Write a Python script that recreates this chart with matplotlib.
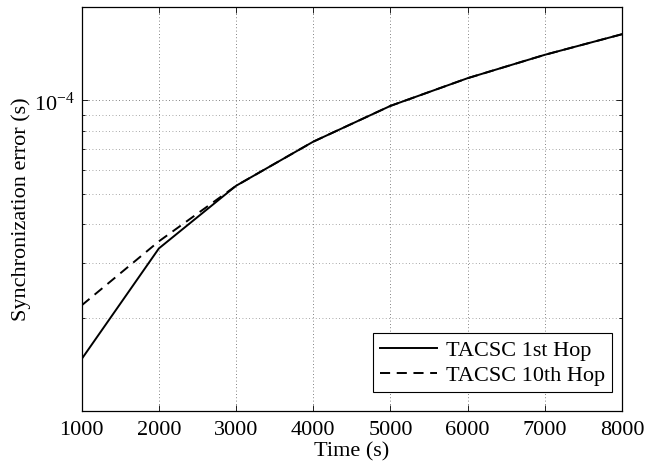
import numpy as np
import matplotlib
matplotlib.use("Agg")
import matplotlib.pyplot as plt
from matplotlib.ticker import FixedLocator, NullFormatter, FixedFormatter

plt.rcParams["font.family"] = "serif"
plt.rcParams["font.serif"] = ["Liberation Serif", "DejaVu Serif"]
plt.rcParams["mathtext.fontset"] = "custom"
plt.rcParams["mathtext.rm"] = "Liberation Serif"
plt.rcParams["mathtext.it"] = "Liberation Serif:italic"

# ---------------- data ----------------
time_s   = [1000, 2000, 3000, 4000, 5000, 6000, 7000, 8000]
hop_1st  = [1.48e-5, 3.35e-5, 5.32e-5, 7.37e-5, 9.6e-5, 1.178e-4, 1.40e-4, 1.63e-4]
hop_10th = [2.20e-5, 3.53e-5, 5.32e-5, 7.37e-5, 9.6e-5, 1.178e-4, 1.40e-4, 1.63e-4]
minor_y  = [2e-5, 3e-5, 4e-5, 5e-5, 6e-5, 7e-5, 8e-5, 9e-5]
FS = 16
# -------------------------------------------------------------

fig = plt.figure(figsize=(6.47, 4.64), dpi=100)
ax = fig.add_axes([0.1263, 0.1127, 0.8351, 0.8711])

ax.plot(time_s, hop_1st, '-', color="black", lw=1.4, label="TACSC 1st Hop")
ax.plot(time_s, hop_10th, '--', color="black", lw=1.4, dashes=(5.2, 3.4),
        label="TACSC 10th Hop")

ax.set_yscale("log")
ax.set_xlim(1000, 8000)
ax.set_ylim(1.01e-5, 2e-4)
ax.set_xticks(range(1000, 8001, 1000))
ax.yaxis.set_major_locator(FixedLocator([1e-4]))
ax.yaxis.set_major_formatter(FixedFormatter([r"$10^{-4}$"]))
ax.yaxis.set_minor_locator(FixedLocator(minor_y))
ax.yaxis.set_minor_formatter(NullFormatter())

ax.tick_params(which="both", direction="in", top=True, right=True,
               labelsize=FS, width=0.6)
ax.tick_params(which="major", length=4, pad=5)
ax.tick_params(axis="x", which="major", pad=7)
ax.tick_params(which="minor", length=2.5)

ax.grid(True, which="major", ls=(0, (1, 3)), color="0.35", lw=0.6)
ax.grid(True, which="minor", axis="y", ls=(0, (1, 3)), color="0.55", lw=0.6)

for sp in ax.spines.values():
    sp.set_linewidth(0.9)

ax.set_xlabel("Time (s)", fontsize=FS, labelpad=1)
ax.set_ylabel("Synchronization error (s)", fontsize=FS, labelpad=2)

leg = ax.legend(loc="lower right", bbox_to_anchor=(0.9815, 0.0463),
                borderaxespad=0, fontsize=FS, fancybox=False,
                framealpha=1, edgecolor="black", handlelength=2.6,
                handletextpad=0.4, borderpad=0.3, labelspacing=0.2)
leg.get_frame().set_linewidth(0.8)

fig.savefig("out.png", dpi=100)
